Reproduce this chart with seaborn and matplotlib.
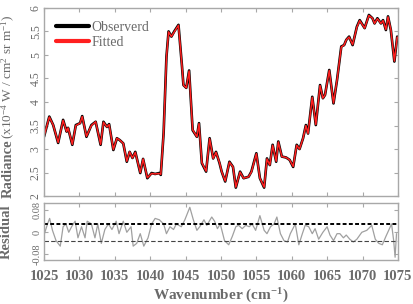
import matplotlib
matplotlib.use("Agg")
import matplotlib.pyplot as plt
import seaborn as sns
import pandas as pd

# ---------------- data ----------------
wavenumber = [1025.0, 1025.75, 1026.3, 1027.0, 1027.7, 1028.2, 1028.4, 1029.0, 1029.5, 1030.1,
              1030.4, 1031.0, 1031.7, 1032.3, 1033.0, 1033.4, 1033.9, 1034.2, 1034.8, 1035.3,
              1035.7, 1036.2, 1036.7, 1037.1, 1037.5, 1037.9, 1038.6, 1039.0, 1039.6, 1040.2,
              1040.7, 1041.3, 1041.5, 1041.9, 1042.3, 1042.6, 1043.0, 1043.4, 1044.0, 1044.5,
              1044.7, 1045.1, 1045.5, 1046.0, 1046.6, 1046.9, 1047.3, 1047.9, 1048.4, 1048.9,
              1049.3, 1049.8, 1050.1, 1050.6, 1051.2, 1051.7, 1052.1, 1052.7, 1053.2, 1053.9,
              1054.3, 1055.0, 1055.5, 1056.1, 1056.5, 1056.9, 1057.3, 1057.8, 1058.1, 1058.6,
              1059.2, 1059.7, 1060.2, 1060.7, 1061.1, 1061.6, 1062.0, 1062.3, 1062.9, 1063.4,
              1064.0, 1064.4, 1064.7, 1065.3, 1065.9, 1066.4, 1067.0, 1067.4, 1067.7, 1068.1,
              1068.6, 1069.2, 1069.6, 1070.3, 1070.9, 1071.4, 1071.7, 1072.1, 1072.6, 1072.9,
              1073.3, 1073.6, 1074.0, 1074.5, 1074.9]

observed = [3.26, 3.69, 3.51, 3.13, 3.62, 3.37, 3.45, 3.09, 3.51, 3.55,
            3.70, 3.26, 3.51, 3.58, 3.09, 3.58, 3.47, 3.53, 2.98, 3.23,
            3.19, 3.12, 2.73, 2.94, 2.81, 2.94, 2.49, 2.79, 2.38, 2.49,
            2.47, 2.49, 2.45, 3.34, 4.96, 5.50, 5.39, 5.50, 5.64, 4.75,
            4.36, 4.30, 4.67, 3.40, 3.26, 3.55, 2.70, 2.52, 3.23, 2.80,
            2.94, 2.70, 2.52, 2.31, 2.73, 2.62, 2.18, 2.52, 2.38, 2.41,
            2.52, 2.91, 2.38, 2.18, 2.80, 2.66, 3.09, 2.73, 3.16, 2.84,
            2.82, 2.77, 2.62, 3.09, 3.00, 3.23, 3.51, 3.33, 4.11, 3.51,
            4.36, 4.08, 4.15, 4.68, 3.97, 4.47, 5.18, 5.21, 5.32, 5.39,
            5.21, 5.60, 5.74, 5.57, 5.85, 5.78, 5.67, 5.78, 5.67, 5.74,
            5.53, 5.82, 5.53, 4.86, 5.39]

fitted = [3.27, 3.68, 3.51, 3.14, 3.61, 3.37, 3.45, 3.10, 3.50, 3.55,
          3.69, 3.27, 3.50, 3.58, 3.10, 3.57, 3.47, 3.52, 2.99, 3.23,
          3.19, 3.12, 2.74, 2.94, 2.81, 2.93, 2.50, 2.79, 2.39, 2.48,
          2.47, 2.48, 2.46, 3.34, 4.95, 5.49, 5.39, 5.49, 5.63, 4.75,
          4.36, 4.30, 4.66, 3.41, 3.26, 3.54, 2.71, 2.53, 3.22, 2.80,
          2.93, 2.71, 2.52, 2.32, 2.72, 2.62, 2.19, 2.51, 2.38, 2.41,
          2.51, 2.90, 2.38, 2.19, 2.79, 2.66, 3.08, 2.74, 3.15, 2.84,
          2.82, 2.77, 2.63, 3.08, 3.00, 3.23, 3.50, 3.33, 4.10, 3.52,
          4.35, 4.08, 4.15, 4.67, 3.98, 4.47, 5.17, 5.21, 5.32, 5.38,
          5.22, 5.59, 5.73, 5.57, 5.84, 5.78, 5.67, 5.77, 5.67, 5.73,
          5.54, 5.81, 5.54, 4.87, 5.38]

resid_wn = [1025.0, 1025.5, 1025.8, 1026.2, 1026.7, 1027.3, 1027.7, 1028.1, 1028.5, 1028.9,
            1029.4, 1029.8, 1030.3, 1030.8, 1031.1, 1031.7, 1032.2, 1032.6, 1033.1, 1033.6,
            1034.1, 1034.6, 1035.2, 1035.6, 1036.2, 1036.7, 1037.3, 1037.6, 1038.1, 1038.6,
            1039.1, 1039.7, 1040.2, 1040.7, 1041.3, 1041.9, 1042.3, 1042.8, 1043.3, 1043.7,
            1044.4, 1044.9, 1045.6, 1046.1, 1046.6, 1047.0, 1047.6, 1048.0, 1048.7, 1049.1,
            1049.5, 1049.9, 1050.5, 1051.1, 1051.6, 1052.1, 1052.5, 1053.0, 1053.5, 1054.0,
            1054.4, 1054.9, 1055.5, 1056.1, 1056.5, 1057.0, 1057.5, 1057.9, 1058.4, 1058.9,
            1059.4, 1059.8, 1060.5, 1061.0, 1061.5, 1061.9, 1062.4, 1062.9, 1063.3, 1063.8,
            1064.4, 1065.0, 1065.4, 1065.9, 1066.4, 1066.8, 1067.3, 1067.7, 1068.2, 1068.7,
            1069.2, 1069.9, 1070.6, 1071.3, 1071.8, 1072.3, 1072.8, 1073.3, 1073.8, 1074.1,
            1074.4, 1074.6, 1074.8]

residual = [-0.010, 0.030, 0.050, 0.007, -0.030, -0.050, 0.020, 0.030, 0.000, 0.020,
            0.040, -0.020, 0.020, -0.020, 0.040, 0.030, -0.020, 0.030, -0.040, 0.010,
            0.030, 0.010, 0.040, -0.005, 0.040, 0.000, 0.020, -0.050, -0.040, -0.005,
            -0.050, -0.020, 0.030, 0.050, 0.045, 0.030, -0.005, 0.020, 0.010, 0.030,
            0.020, 0.045, 0.090, 0.045, 0.007, 0.020, 0.045, 0.025, 0.055, 0.040,
            0.013, 0.030, -0.030, -0.045, -0.015, 0.020, 0.025, 0.013, 0.025, 0.020,
            0.030, 0.007, 0.060, 0.007, -0.005, 0.020, 0.030, 0.055, -0.005, -0.030,
            -0.035, -0.005, 0.030, -0.045, -0.005, 0.025, 0.020, -0.005, 0.013, -0.025,
            0.000, 0.020, -0.010, -0.030, -0.005, -0.005, -0.020, -0.010, -0.025, -0.035,
            -0.025, 0.000, 0.007, 0.025, -0.025, -0.040, -0.045, -0.015, 0.013, 0.030,
            -0.030, -0.090, -0.005]

upper_band = 0.03
lower_band = -0.03

x_ticks = [1025, 1030, 1035, 1040, 1045, 1050, 1055, 1060, 1065, 1070, 1075]
y_ticks_top = [2, 2.5, 3, 3.5, 4, 4.5, 5, 5.5, 6]
y_tick_labels_top = ["2", "2.5", "3", "3.5", "4", "4.5", "5", "5.5", "6"]
y_ticks_res = [-0.08, 0, 0.08]
y_tick_labels_res = ["-0.08", "0", "0.08"]

# ---------------- style ----------------
sns.set_theme(style="ticks")
plt.rcParams["font.family"] = ["Liberation Serif", "DejaVu Serif"]
plt.rcParams["mathtext.fontset"] = "custom"
plt.rcParams["mathtext.rm"] = "Liberation Serif"
plt.rcParams["mathtext.it"] = "Liberation Serif:italic"
plt.rcParams["mathtext.bf"] = "Liberation Serif:bold"

TXT = "#6a6a6a"
SPINE = "#a8a8a8"
W, H = 413, 304

fig = plt.figure(figsize=(4.13, 3.04), dpi=100)
ax1 = fig.add_axes([0.1065, 0.355, 0.857, 0.619])
ax2 = fig.add_axes([0.1065, 0.1447, 0.857, 0.187])

df = pd.DataFrame({"wn": wavenumber, "obs": observed, "fit": fitted})
sns.lineplot(data=df, x="wn", y="obs", ax=ax1, color="black", lw=1.9, label="Observerd")
sns.lineplot(data=df, x="wn", y="fit", ax=ax1, color="#ff1f1f", lw=1.1, label="Fitted")

dr = pd.DataFrame({"wn": resid_wn, "res": residual})
sns.lineplot(data=dr, x="wn", y="res", ax=ax2, color="#a0a0a0", lw=0.9)
ax2.axhline(upper_band, color="black", lw=1.4, ls=(0, (2, 1.2)))
ax2.axhline(lower_band, color="#444444", lw=0.8, ls=(0, (4, 2)))

for ax in (ax1, ax2):
    ax.set_xlim(1025, 1075)
    ax.set_xticks(x_ticks)
    for s in ax.spines.values():
        s.set_color(SPINE)
        s.set_linewidth(1.0)
    ax.tick_params(axis="both", which="both", direction="in", top=True, right=True,
                   color=SPINE, length=3, width=0.8, labelcolor=TXT)
    ax.set_xlabel("")
    ax.set_ylabel("")

ax1.set_ylim(2, 6)
ax1.set_yticks(y_ticks_top)
ax1.set_yticklabels(y_tick_labels_top, rotation=90, va="center", fontsize=8.5)
ax1.tick_params(axis="x", labelbottom=False)
ax1.tick_params(axis="y", pad=1.5)

ax2.set_ylim(-0.1, 0.105)
ax2.set_yticks(y_ticks_res)
ax2.set_yticklabels(y_tick_labels_res, rotation=90, va="center", fontsize=7.5)
ax2.tick_params(axis="y", pad=1.5)
ax2.set_xticklabels([str(t) for t in x_ticks], fontsize=10.5, fontweight="bold")
ax2.tick_params(axis="x", pad=7)

# y label of the top panel: bold word + regular units
t_rad = fig.text(8 / W, 1 - 198 / H, "Radiance", rotation=90, ha="center", va="bottom",
                 fontsize=10.5, fontweight="bold", color=TXT)
fig.add_artist(plt.Annotation(r"(x10$^{-4}$ W / cm$^{2}$ sr m$^{-1}$)", xy=(0.5, 1.0),
                              xycoords=t_rad, xytext=(0.6, 0.5), textcoords="offset points",
                              rotation=90, ha="center", va="bottom",
                              fontsize=9.5, color=TXT))

ax2.set_ylabel("Residual", fontsize=10.5, fontweight="bold", color=TXT)
ax2.yaxis.set_label_coords(-0.088, 0.5)
ax2.set_xlabel(r"Wavenumber (cm$^{\mathbf{-1}}$)", fontsize=11, fontweight="bold", color=TXT)
ax2.xaxis.set_label_coords(0.5, -0.47)

leg = ax1.legend(loc="upper left", bbox_to_anchor=(0.01, 0.975), frameon=False,
                 fontsize=10, handlelength=2.4, handletextpad=0.15, labelspacing=0.15,
                 borderaxespad=0.2)
for h in leg.get_lines():
    h.set_linewidth(3.0)
for t in leg.get_texts():
    t.set_color(TXT)

fig.savefig("out.png", dpi=100)
